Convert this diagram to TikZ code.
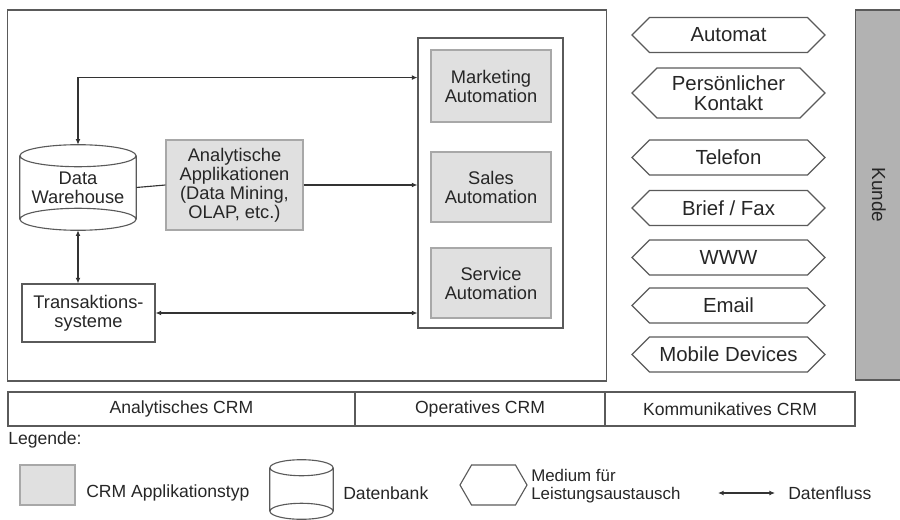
\documentclass[tikz,border=0pt]{standalone}
\usepackage{fontspec}
\setmainfont{Liberation Sans}
\usetikzlibrary{shapes.symbols,arrows.meta}
\definecolor{appgray}{HTML}{E0E0E0}
\definecolor{linegray}{HTML}{5A5A5A}
\definecolor{kundegray}{HTML}{B2B2B2}
\tikzset{
  lbl/.style={text=black!85, align=center, font=\fontsize{13}{13.5}\selectfont},
  box/.style={lbl, rectangle, draw=linegray, line width=0.8pt, inner sep=0pt},
  app/.style={box, draw=appgray!75!black, fill=appgray},
  db/.style={lbl, rectangle, inner sep=0pt},
  dbline/.style={draw=linegray, line width=0.8pt},
  medium/.style={lbl, signal, signal to=west and east, signal pointer angle=90, draw=linegray, line width=0.8pt,
    inner sep=0pt, minimum width=4.825cm, minimum height=0.875cm, font=\fontsize{14.5}{14}\selectfont},
  layer/.style={box, minimum height=0.85cm, font=\fontsize{12.5}{13}\selectfont},
  legtext/.style={lbl, align=left, anchor=west, inner sep=0pt, font=\fontsize{12.5}{12.5}\selectfont},
  flow/.style={draw=black!80, line width=0.8pt, {Latex[length=4pt,width=3.5pt]}-{Latex[length=4pt,width=3.5pt]}},
  flowto/.style={draw=black!80, line width=0.8pt, -{Latex[length=4pt,width=3.5pt]}},
  plain/.style={draw=black!80, line width=0.8pt}
}
% cylinder round a node: name, x radius, y radius
\newcommand\drawdb[3]{%
  \draw[dbline] (#1.north west) -- (#1.south west) (#1.north east) -- (#1.south east)
    (#1.north) ellipse [x radius=#2, y radius=#3]
    (#1.south) ellipse [x radius=#2, y radius=#3];
  \coordinate (#1 top) at ([yshift=#3]#1.north);
  \coordinate (#1 bottom) at ([yshift=-#3]#1.south);
}
\begin{document}
\begin{tikzpicture}[x=0.025cm,y=-0.025cm]
  \useasboundingbox (0,0) rectangle (900,519);

  \node[box, minimum width=14.95cm, minimum height=9.275cm] (acrm) at (307,195.5) {};
  \node[box, minimum width=3.625cm, minimum height=7.25cm] (ops) at (490.5,183) {};

  \node[app, minimum width=3cm, minimum height=1.8cm] (mark) at (491,86) {Marketing\\Automation};
  \node[app, minimum width=3cm, minimum height=1.75cm] (sales) at (491,187) {Sales\\Automation};
  \node[app, minimum width=3cm, minimum height=1.75cm] (serv) at (491,283) {Service\\Automation};

  \node[db, minimum width=2.9cm, minimum height=1.575cm] (dw) at (78,187.5) {Data\\Warehouse};
  \drawdb{dw}{1.45cm}{0.275cm}
  \node[app, minimum width=3.425cm, minimum height=2.25cm] (ana) at (234.5,185) {Analytische\\Applikationen\\(Data Mining,\\OLAP, etc.)};
  \node[box, minimum width=3.325cm, minimum height=1.45cm] (trans) at (88.5,313) {Transaktions-\\systeme};

  \draw[flow] (dw top) |- ([yshift=6pt]ops.west |- mark.west);
  \draw[plain] (dw.east) -- (ana.west);
  \draw[flowto] (ana.east) -- (ana.east -| ops.west);
  \draw[flow] (dw bottom) -- (dw bottom |- trans.north);
  \draw[flow] (trans.east) -- (trans.east -| ops.west);

  \node[medium] (m1) at (728.5,35) {Automat};
  \node[medium, minimum height=1.25cm] (m2) at (728.5,93) {Persönlicher\\Kontakt};
  \node[medium] (m3) at (728.5,157.5) {Telefon};
  \node[medium] (m4) at (728.5,208) {Brief / Fax};
  \node[medium] (m5) at (728.5,257.5) {WWW};
  \node[medium] (m6) at (728.5,305.5) {Email};
  \node[medium] (m7) at (728.5,354.5) {Mobile Devices};

  \node[box, fill=kundegray, minimum width=1.175cm, minimum height=9.25cm] (kunde) at (879,195) {};
  \node[lbl, rotate=-90, font=\fontsize{13.5}{14}\selectfont] (kundetext) at (kunde.center) {Kunde};

  \node[layer, minimum width=8.675cm] (l1) at (181.5,409) {Analytisches CRM};
  \node[layer, minimum width=6.25cm] (l2) at (480,409) {Operatives CRM};
  \node[layer, minimum width=6.25cm] (l3) at (730,409) {Kommunikatives CRM};

  \node[legtext] (leg) at (8,440) {Legende:};
  \node[app, minimum width=1.375cm, minimum height=1cm] (legapp) at (47.5,485) {};
  \node[legtext] (legapptext) at (86,493) {CRM Applikationstyp};
  \node[db, minimum width=1.575cm, minimum height=1.075cm] (legdb) at (301.5,489.5) {};
  \drawdb{legdb}{0.7875cm}{0.2cm}
  \node[legtext] (legdbtext) at (343,493) {Datenbank};
  \node[medium, signal pointer angle=120, minimum width=1.675cm, minimum height=1cm] (legmed) at (493.5,485) {};
  \node[legtext, font=\fontsize{12}{12.5}\selectfont] (legmedtext) at (531,486) {Medium für\\Leistungsaustausch};
  \coordinate (fl1) at (718,493);
  \coordinate (fl2) at (775,493);
  \draw[flow] (fl1) -- (fl2);
  \node[legtext] (legfltext) at (788,493) {Datenfluss};
\end{tikzpicture}
\end{document}
